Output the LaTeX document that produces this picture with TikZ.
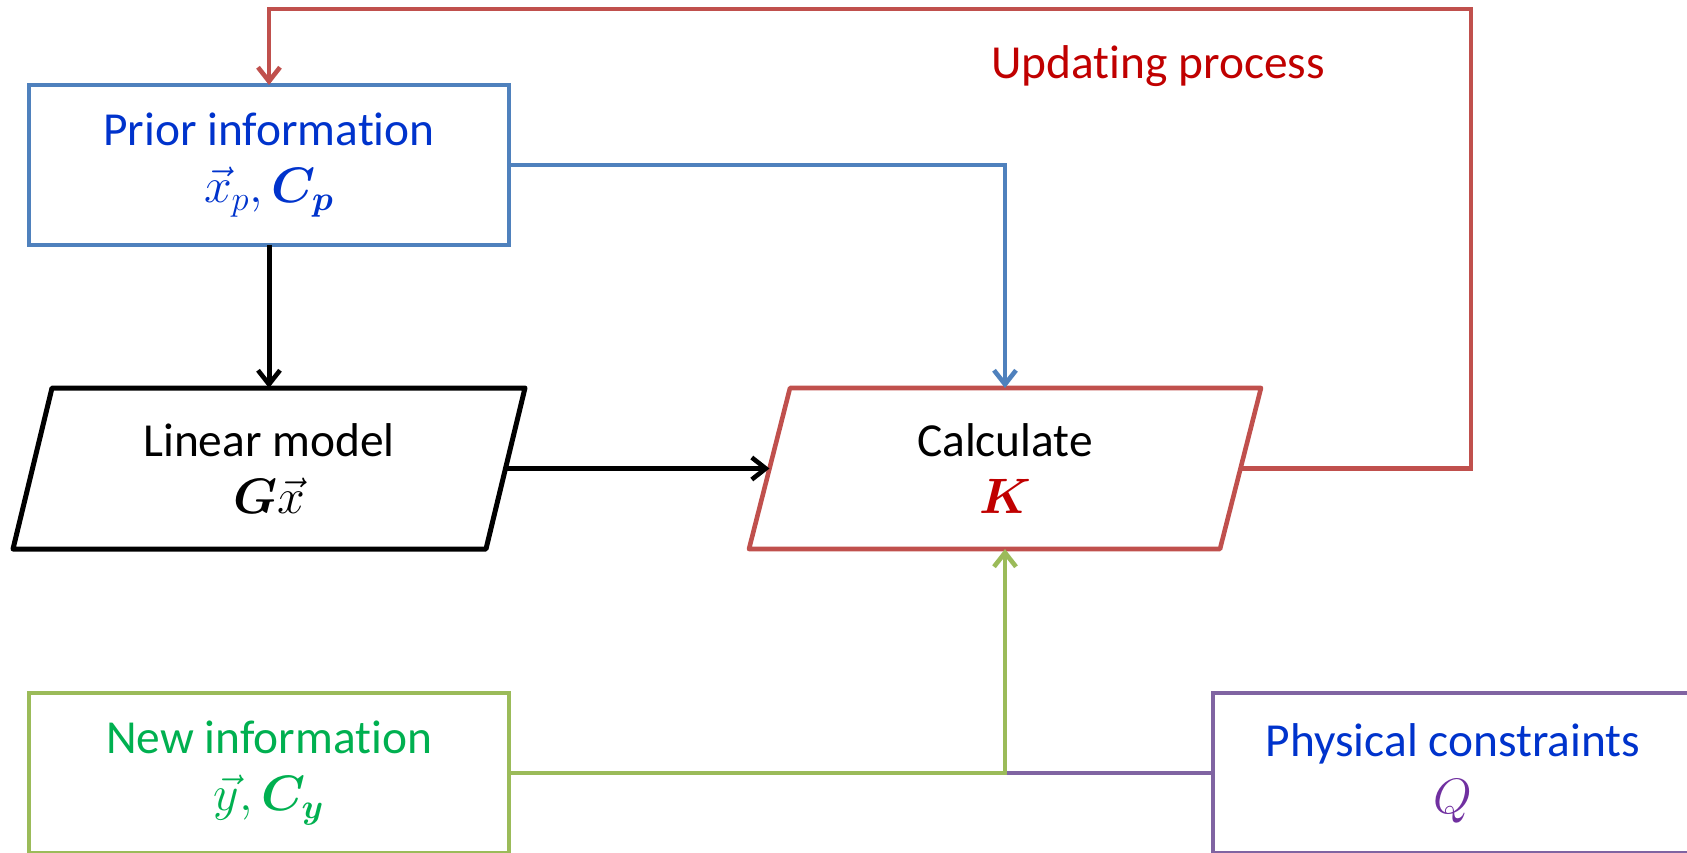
\documentclass[tikz,border=0pt]{standalone}
\usepackage{amsmath,bm}
\usepackage{fontspec}
\setmainfont{Carlito}[RawFeature={-liga;-clig;-calt;-dlig}]
\usetikzlibrary{arrows.meta,calc}
\definecolor{bblue}{HTML}{4F81BD}
\definecolor{bred}{HTML}{C0504D}
\definecolor{bgreen}{HTML}{9BBB59}
\definecolor{bpurple}{HTML}{8064A2}
\definecolor{tblue}{HTML}{0033CC}
\definecolor{tred}{HTML}{C00000}
\definecolor{tgreen}{HTML}{00B050}
\definecolor{tpurple}{HTML}{7030A0}
\begin{document}
\begin{tikzpicture}[x=0.5pt,y=-0.5pt,
  lbl/.style={align=center,font=\fontsize{23.7pt}{28.5pt}\selectfont},
  box/.style={lbl,draw,line width=2.3pt,inner sep=0pt,outer sep=0pt,minimum width=240pt,minimum height=80pt},
  pgram/.style={lbl,inner sep=0pt,outer sep=0pt,minimum height=80.5pt},
  conn/.style={line width=2.3pt,line join=miter},
  arr/.style={conn,-{Straight Barb[length=7pt,width=11pt,line width=2.3pt]}}]
\useasboundingbox (0,0) rectangle (1687,852);
\clip (0,0) rectangle (1687,852);
% nodes
\node[box,draw=bblue,text=tblue] (prior) at (269,165) {Prior information\\$\vec{x}_p,\bm{C_p}$};
\node[pgram,minimum width=236.5pt] (lin) at (269,468.5) {Linear model\\$\bm{G}\vec{x}$};
\node[pgram,minimum width=235.5pt] (calc) at (1005,468.5) {Calculate\\\textcolor{tred}{$\bm{K}$}};
\node[box,draw=bgreen,text=tgreen] (new) at (269,773) {New information\\$\vec{y},\bm{C_y}$};
\node[box,draw=bpurple,text=tblue] (phys) at (1453,773) {Physical constraints\\\textcolor{tpurple}{$Q$}};
\node[lbl,text=tred] (upd) at (1158,66) {Updating process};
% parallelogram outlines
\draw[line width=2.5pt,line join=round] ($(lin.north west)+(19.5,0)$) -- ($(lin.north east)+(19.5,0)$) -- ($(lin.south east)+(-19.5,0)$) -- ($(lin.south west)+(-19.5,0)$) -- cycle;
\draw[line width=2.3pt,draw=bred,line join=round] ($(calc.north west)+(20.5,0)$) -- ($(calc.north east)+(20.5,0)$) -- ($(calc.south east)+(-20.5,0)$) -- ($(calc.south west)+(-20.5,0)$) -- cycle;
% connectors
\coordinate (rtop) at (1471,9);
\draw[arr,bred] (calc.east) -| (rtop) -| (prior.north);
\draw[arr,bblue] (prior.east) -| (calc.north);
\draw[arr,black,line width=2.5pt] (prior.south) -- (lin.north);
\draw[arr,black,line width=2.5pt] (lin.east) -- (calc.west);
\draw[conn,bpurple] (phys.west) -- (calc.south |- phys.west);
\draw[arr,bgreen] (new.east) -| (calc.south);
\end{tikzpicture}
\end{document}
